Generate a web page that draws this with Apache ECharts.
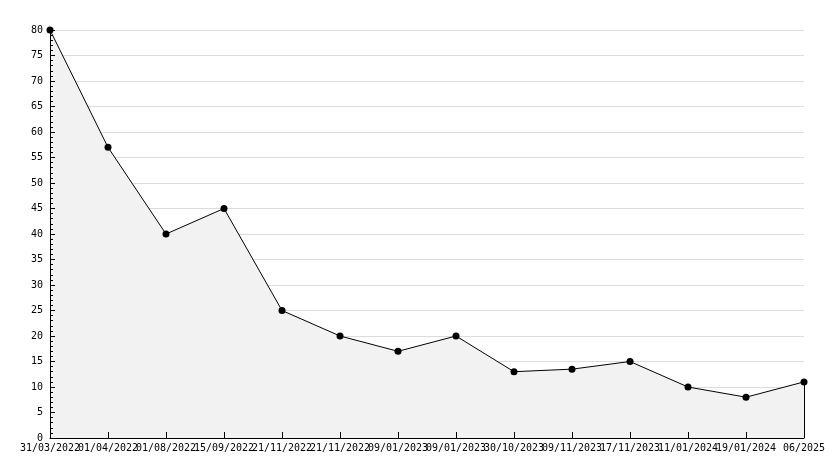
<!DOCTYPE html>
<html><head><meta charset="utf-8">
<script src="https://cdn.jsdelivr.net/npm/echarts@6/dist/echarts.min.js"></script>
<style>html,body{margin:0;padding:0;background:#fff}#c{width:834px;height:468px}</style>
</head><body><div id="c"></div>
<script>
const categories = ["31/03/2022","01/04/2022","01/08/2022","15/09/2022","21/11/2022","21/11/2022","09/01/2023","09/01/2023","30/10/2023","09/11/2023","17/11/2023","11/01/2024","19/01/2024","06/2025"];
const values = [80, 57, 40, 45, 25, 20, 17, 20, 13, 13.5, 15, 10, 8, 11];
const yMin = 0, yMax = 80, yStep = 5;

const chart = echarts.init(document.getElementById('c'), null, {renderer:'canvas'});
const lastIdx = categories.length - 1;
chart.setOption({
  animation:false,
  backgroundColor:'#fff',
  grid:{left:50,right:30,top:30,bottom:30,containLabel:false},
  xAxis:{type:'category',data:categories,boundaryGap:false,z:5,
    axisLine:{onZero:false,lineStyle:{color:'#000',width:1}},
    axisTick:{inside:true,length:6,interval:0,lineStyle:{color:'#000'}},
    axisLabel:{interval:0,color:'#000',fontFamily:'DejaVu Sans Mono',fontSize:10,margin:5},
    splitLine:{show:false}},
  yAxis:[
    {type:'value',min:yMin,max:yMax,interval:yStep,z:0,
      axisLine:{show:false},axisTick:{show:false},axisLabel:{show:false},
      splitLine:{show:true,lineStyle:{color:'#dcdcdc',width:1}}},
    {type:'value',min:yMin,max:yMax,interval:yStep,position:'left',z:5,
      axisLine:{show:true,onZero:false,lineStyle:{color:'#000',width:1}},
      axisTick:{show:true,inside:true,length:5,lineStyle:{color:'#000'}},
      minorTick:{show:true,splitNumber:5,length:3,lineStyle:{color:'#000'}},
      axisLabel:{color:'#000',fontFamily:'DejaVu Sans Mono',fontSize:10,margin:7},
      splitLine:{show:false}}
  ],
  series:[{type:'line',data:values,yAxisIndex:0,symbol:'circle',symbolSize:7,
    itemStyle:{color:'#000'},lineStyle:{color:'#000',width:1},
    areaStyle:{color:'#f2f2f2',opacity:1},
    markLine:{silent:true,symbol:'none',label:{show:false},lineStyle:{color:'#000',width:1,type:'solid'},
      data:[[{coord:[lastIdx,values[lastIdx]]},{coord:[lastIdx,yMin]}]]}}]
});
</script></body></html>
